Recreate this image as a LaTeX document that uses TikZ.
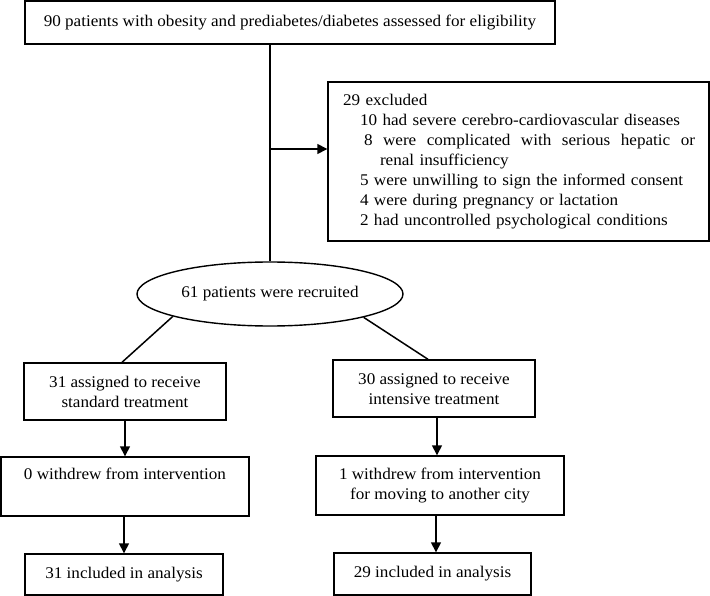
\documentclass[tikz,border=0pt]{standalone}
\usepackage{fontspec}
\setmainfont{Liberation Serif}[FakeStretch=1.05]
\usetikzlibrary{shapes.geometric,arrows.meta}
\begin{document}
\begin{tikzpicture}[x=1pt,y=-1pt,
  font=\fontsize{16.3}{20}\selectfont,
  box/.style={draw,line width=1.4pt,inner sep=0pt,align=center},
  link/.style={line width=1.5pt},
  arr/.style={line width=1.5pt,-{Triangle[length=10pt,width=10pt]}}]
\useasboundingbox (0,0) rectangle (710,596);
\node[box,minimum width=530,minimum height=43] (top) at (290,22.5)
  {90 patients with obesity and prediabetes/diabetes assessed for eligibility};
\node[box,minimum width=381,minimum height=159,text width=351,inner xsep=15pt,align=left] (excl) at (518.5,161.5)
  {29 excluded\\
   \hspace*{17pt}10 had severe cerebro-cardiovascular diseases\\
   \hspace*{21pt}\makebox[331pt][l]{8\hfill were\hfill complicated\hfill with\hfill serious\hfill hepatic\hfill or}\\
   \hspace*{37pt}renal insufficiency\\
   \hspace*{17pt}5 were unwilling to sign the informed consent\\
   \hspace*{17pt}4 were during pregnancy or lactation\\
   \hspace*{17pt}2 had uncontrolled psychological conditions};
\node[draw,ellipse,line width=1.4pt,inner sep=0pt,minimum width=266,minimum height=64] (ell) at (270,294)
  {61 patients were recruited};
\node[box,minimum width=202,minimum height=57] (b1) at (125,391.5) {31 assigned to receive\\standard treatment};
\node[box,minimum width=202,minimum height=57] (b2) at (434,388.5) {30 assigned to receive\\intensive treatment};
\node[box,minimum width=248,minimum height=59] (b3) at (125,486.5) {0 withdrew from intervention\\\strut};
\node[box,minimum width=248,minimum height=59] (b4) at (440,485.5) {1 withdrew from intervention\\for moving to another city};
\node[box,minimum width=198,minimum height=41] (b5) at (124,574.5) {31 included in analysis};
\node[box,minimum width=197,minimum height=42] (b6) at (432.5,574) {29 included in analysis};
\draw[link] (top.south -| ell.north) -- (ell.north);
\coordinate (j) at (270,149);
\draw[arr] (j) -- (j -| excl.west);
\draw[link] (ell.193.5) -- ([xshift=-3pt]b1.north);
\draw[link] (ell.346.5) -- ([xshift=-6pt]b2.north);
\draw[arr] (b1.south) -- (b3.north);
\draw[arr] ([xshift=3pt]b2.south) -- ([xshift=3pt]b2.south |- b4.north);
\draw[arr] ([xshift=-1pt]b3.south) -- ([xshift=-1pt]b3.south |- b5.north);
\draw[arr] ([xshift=-4pt]b4.south) -- ([xshift=-4pt]b4.south |- b6.north);
\end{tikzpicture}
\end{document}
